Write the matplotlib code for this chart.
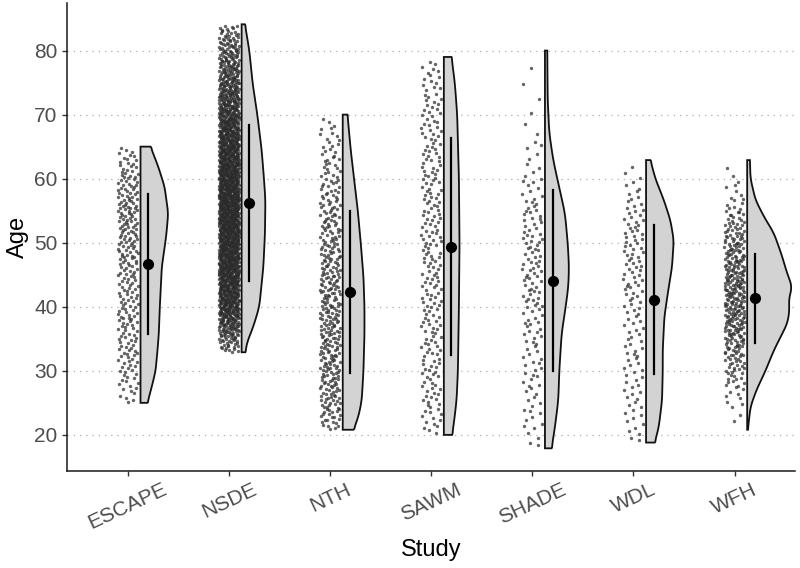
import numpy as np
import matplotlib
matplotlib.use('Agg')
import matplotlib.pyplot as plt
from matplotlib.patches import Polygon

plt.rcParams['font.family'] = ['Liberation Sans', 'DejaVu Sans']

studies = ['ESCAPE', 'NSDE', 'NTH', 'SAWM', 'SHADE', 'WDL', 'WFH']
n_points = [260, 1900, 380, 240, 150, 130, 350]
means = [46.7, 56.25, 42.3, 49.4, 44.1, 41.1, 41.3]
sds = [10.9, 12.2, 12.7, 16.9, 14.2, 11.6, 7.0]

# half-violin profiles: ages and half-widths
ages_escape = [25, 28, 30, 33.2, 35.8, 40, 46.25, 50, 51.5, 54.6, 58.75, 61.9, 65]
dens_escape = [0.069, 0.119, 0.149, 0.168, 0.181, 0.191, 0.211, 0.245, 0.257, 0.274, 0.238, 0.175, 0.099]
ages_nsde = [32.9, 34.3, 36.9, 40, 46.25, 51.5, 56.7, 60, 64.5, 70, 74.9, 80, 84.1]
dens_nsde = [0.037, 0.050, 0.116, 0.175, 0.215, 0.231, 0.235, 0.221, 0.198, 0.155, 0.109, 0.076, 0.033]
ages_nth = [20.8, 22.8, 25.4, 30, 35.8, 40, 44.7, 50, 55, 60, 64.5, 70]
dens_nth = [0.106, 0.155, 0.188, 0.205, 0.215, 0.215, 0.205, 0.178, 0.149, 0.112, 0.079, 0.047]
ages_sawm = [20, 21.8, 25.4, 30, 40, 50, 60, 70, 74.9, 79]
dens_sawm = [0.082, 0.099, 0.126, 0.139, 0.149, 0.155, 0.149, 0.132, 0.109, 0.076]
ages_shade = [17.9, 21.25, 25.4, 30, 35.8, 40, 43.1, 46.25, 50, 54.6, 60, 62.9, 67.1, 72.3, 80]
dens_shade = [0.066, 0.099, 0.132, 0.142, 0.165, 0.205, 0.231, 0.238, 0.225, 0.198, 0.122, 0.082, 0.043, 0.027, 0.023]
ages_wdl = [18.8, 21.25, 25.4, 30, 33.2, 38.4, 42.1, 46.25, 50.4, 53.5, 56.7, 60, 62.9]
dens_wdl = [0.086, 0.126, 0.158, 0.165, 0.165, 0.181, 0.215, 0.257, 0.274, 0.241, 0.175, 0.092, 0.043]
ages_wfh = [20.8, 24.4, 27, 30, 33.2, 35.8, 37.5, 39.5, 41.3, 43.1, 45.2, 48.3, 51.5, 54.1, 56.7, 60, 62.9]
dens_wfh = [0.007, 0.033, 0.092, 0.181, 0.264, 0.347, 0.400, 0.418, 0.412, 0.446, 0.396, 0.337, 0.264, 0.165, 0.082, 0.033, 0.027]

profiles = [(ages_escape, dens_escape), (ages_nsde, dens_nsde), (ages_nth, dens_nth),
            (ages_sawm, dens_sawm), (ages_shade, dens_shade), (ages_wdl, dens_wdl),
            (ages_wfh, dens_wfh)]


def radical_inverse(i, base):
    f, r = 1.0, 0.0
    while i > 0:
        f /= base
        r += f * (i % base)
        i //= base
    return r


fig = plt.figure(figsize=(8, 5.68), dpi=100)
ax = fig.add_axes([0.084, 0.171, 0.910, 0.824])

for k, (ages, dens) in enumerate(profiles):
    xc = k + 1
    ages = np.array(ages, dtype=float)
    dens = np.array(dens, dtype=float)
    # smooth outline of the half violin
    yy = np.linspace(ages[0], ages[-1], 300)
    ww = np.interp(yy, ages, dens)
    kern = np.ones(15) / 15
    pad = np.concatenate([np.full(7, ww[0]), ww, np.full(7, ww[-1])])
    ww = np.convolve(pad, kern, mode='valid')
    ww[0] = dens[0]
    ww[-1] = dens[-1]
    x0 = xc + 0.125
    verts = [(x0, yy[0])] + [(x0 + w, y) for w, y in zip(ww, yy)] + [(x0, yy[-1])]
    ax.add_patch(Polygon(verts, closed=True, facecolor='#d3d3d3',
                         edgecolor='#111111', linewidth=1.3, zorder=3))

    # points: ages follow the profile's cumulative shape, Halton spread
    cdf = np.concatenate([[0], np.cumsum((ww[1:] + ww[:-1]) / 2)])
    cdf = cdf / cdf[-1]
    n = n_points[k]
    q = np.array([radical_inverse(i + 1, 2) for i in range(n)])
    jx = np.array([radical_inverse(i + 1, 3) for i in range(n)])
    py = np.interp(q, cdf, yy)
    px = xc + (jx - 0.5) * 0.2
    ax.scatter(px, py, s=6, color='#2b2b2b', alpha=0.72, linewidths=0, zorder=2)

    ax.plot([xc + 0.2, xc + 0.2], [means[k] - sds[k], means[k] + sds[k]],
            color='black', lw=1.6, zorder=4)
    ax.plot(xc + 0.2, means[k], 'o', color='black', markersize=7, zorder=5)

ax.set_xlim(0.4, 7.6)
ax.set_ylim(14.38, 87.45)
ax.set_yticks(range(20, 81, 10))
ax.set_xticks(range(1, 8))
ax.set_xticklabels(studies, rotation=25, ha='center')
ax.yaxis.grid(True, linestyle=(0, (1, 4)), color='#aaaaaa', linewidth=0.9)
ax.set_axisbelow(True)
for s in ['top', 'right']:
    ax.spines[s].set_visible(False)
for s in ['left', 'bottom']:
    ax.spines[s].set_linewidth(1.1)
    ax.spines[s].set_color('#1a1a1a')
ax.tick_params(axis='both', length=3.5, width=1, color='#333333',
               labelsize=15, labelcolor='#4d4d4d')
ax.tick_params(axis='x', pad=3)
ax.set_xlabel('Study', fontsize=17, color='black', labelpad=4)
ax.set_ylabel('Age', fontsize=17, color='black', labelpad=4)

plt.savefig('out.png', dpi=100)
